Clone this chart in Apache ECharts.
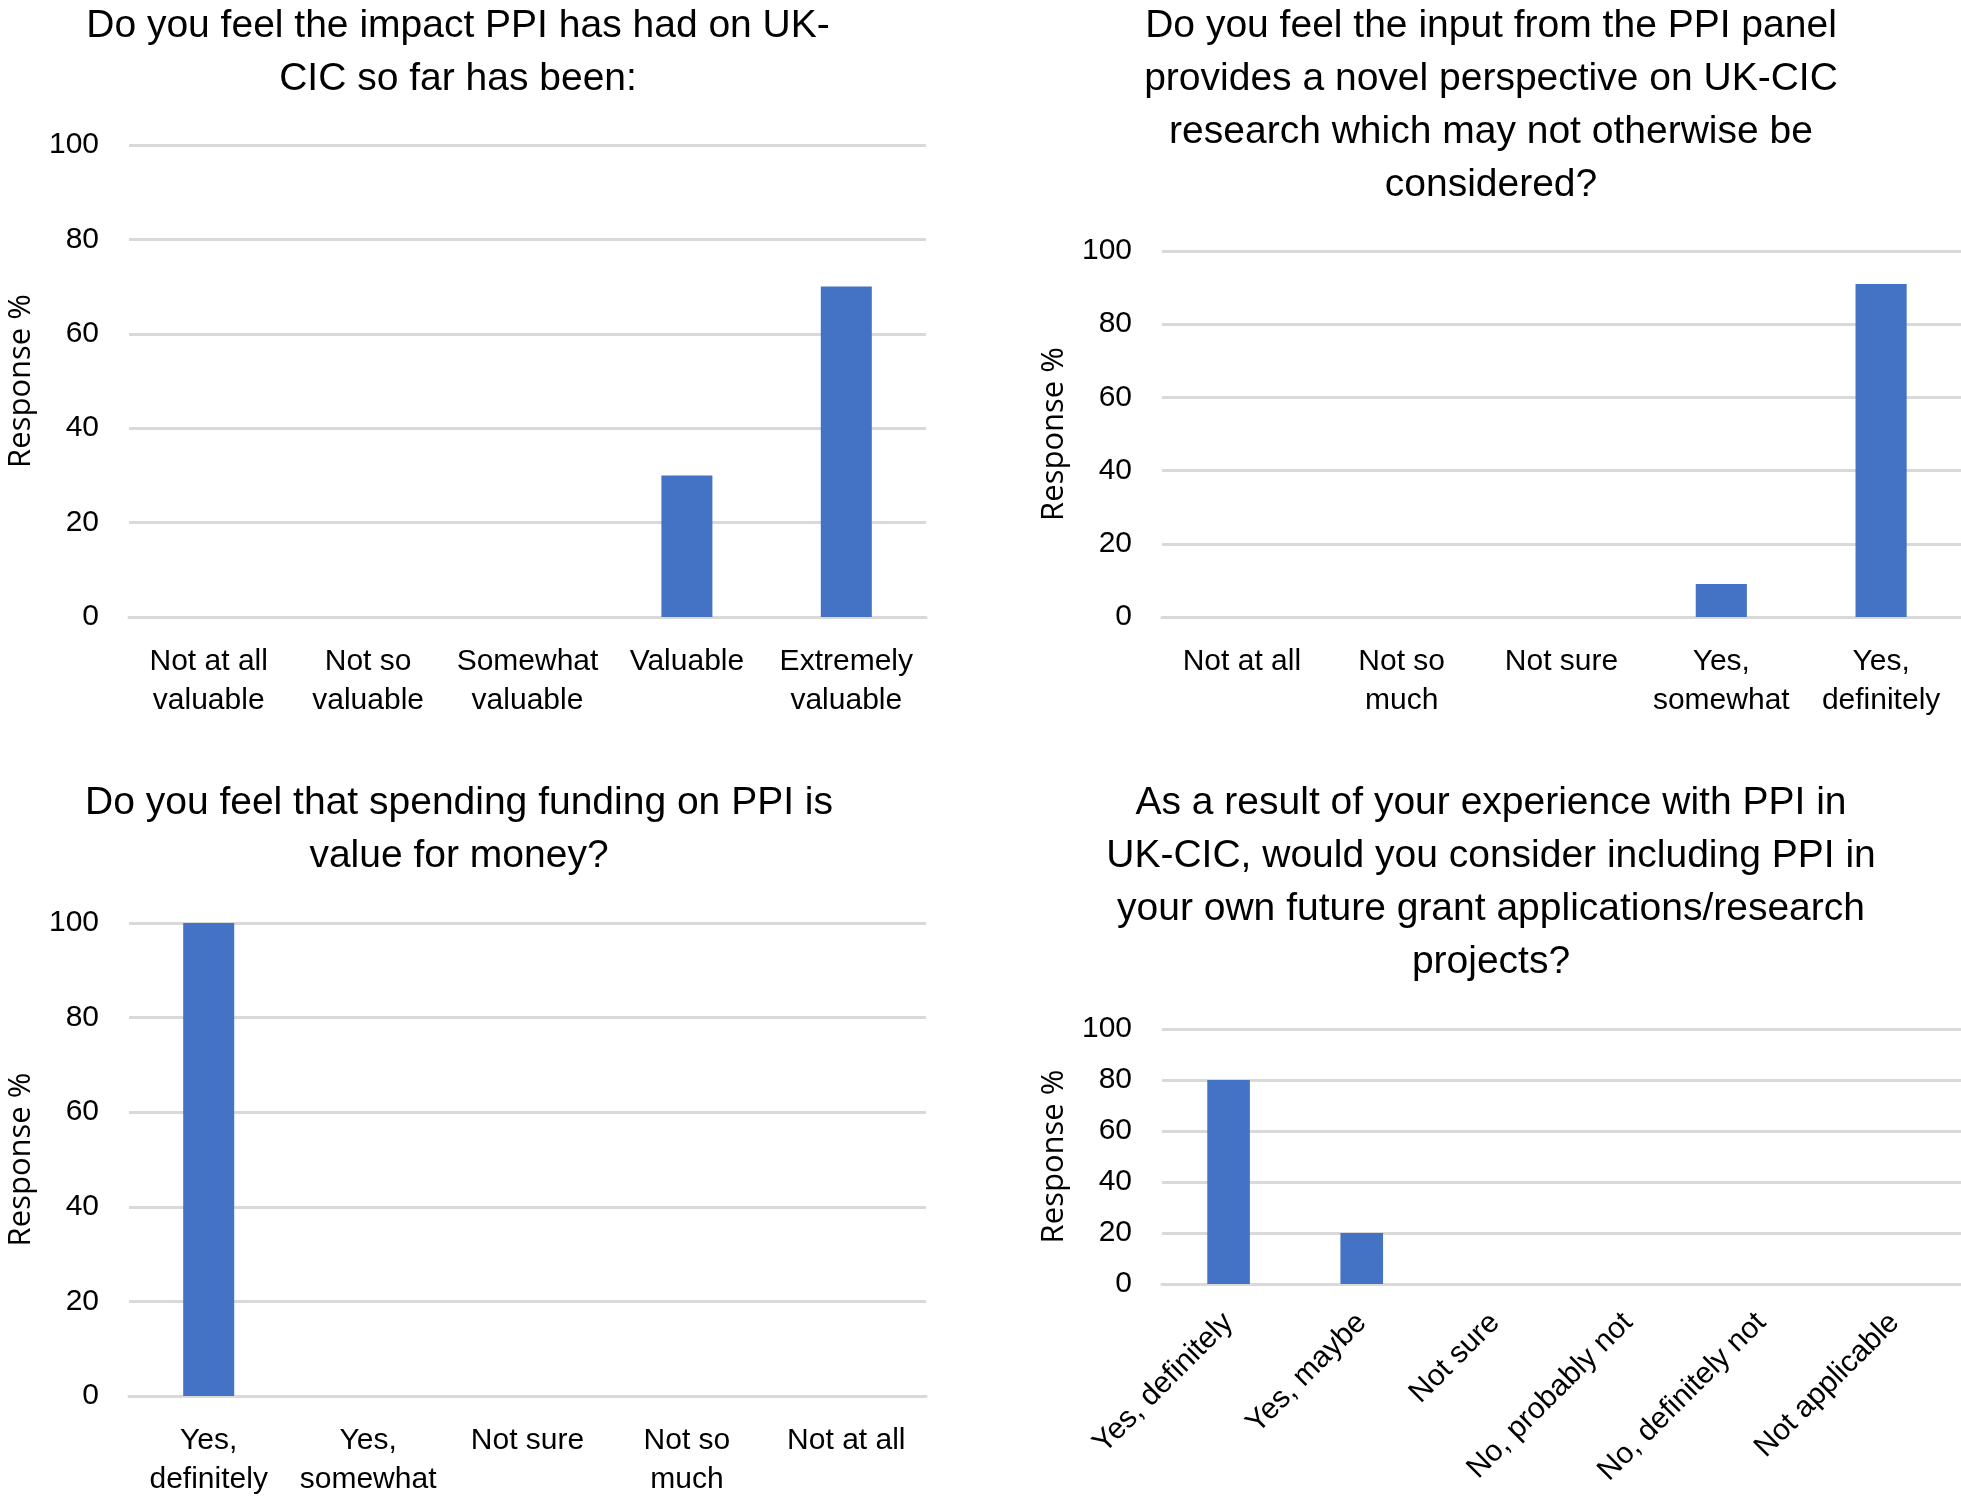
<!DOCTYPE html>
<html>
<head>
<meta charset="utf-8">
<script src="https://cdn.jsdelivr.net/npm/echarts@6/dist/echarts.min.js"></script>
<style>
  html, body { margin: 0; padding: 0; background: #fff; }
  #main { width: 1961px; height: 1499px; }
</style>
</head>
<body>
<div id="main"></div>
<script>
// impact so far
var impactCats = ['Not at all\nvaluable', 'Not so\nvaluable', 'Somewhat\nvaluable', 'Valuable', 'Extremely\nvaluable'];
var impactVals = [0, 0, 0, 30, 70];
// novel perspective
var novelCats = ['Not at all', 'Not so\nmuch', 'Not sure', 'Yes,\nsomewhat', 'Yes,\ndefinitely'];
var novelVals = [0, 0, 0, 9, 91];
// value for money
var moneyCats = ['Yes,\ndefinitely', 'Yes,\nsomewhat', 'Not sure', 'Not so\nmuch', 'Not at all'];
var moneyVals = [100, 0, 0, 0, 0];
// future grants
var grantCats = ['Yes, definitely', 'Yes, maybe', 'Not sure', 'No, probably not', 'No, definitely not', 'Not applicable'];
var grantVals = [80, 20, 0, 0, 0, 0];

var titles = [
  'Do you feel the impact PPI has had on UK-\nCIC so far has been:',
  'Do you feel the input from the PPI panel\nprovides a novel perspective on UK-CIC\nresearch which may not otherwise be\nconsidered?',
  'Do you feel that spending funding on PPI is\nvalue for money?',
  'As a result of your experience with PPI in\nUK-CIC, would you consider including PPI in\nyour own future grant applications/research\nprojects?'
];

var font = 'Liberation Sans, Arial, sans-serif';
var barColor = '#4472C4';
var lineColor = '#D9D9D9';

var chart = echarts.init(document.getElementById('main'));

function makeTitle(text, x, y) {
  return {
    text: text,
    left: x,
    top: y,
    textAlign: 'center',
    textStyle: {
      fontFamily: font,
      fontSize: 39,
      fontWeight: 'normal',
      color: '#000',
      lineHeight: 53
    }
  };
}

function makeX(i, cats, rotate) {
  return {
    type: 'category',
    gridIndex: i,
    data: cats,
    axisTick: { show: false },
    axisLine: { lineStyle: { color: lineColor, width: 3 } },
    axisLabel: {
      interval: 0,
      rotate: rotate || 0,
      margin: rotate ? 34 : 25,
      fontFamily: font,
      fontSize: 30,
      lineHeight: 39,
      color: '#000'
    }
  };
}

function makeY(i, gap) {
  return {
    type: 'value',
    gridIndex: i,
    min: 0,
    max: 100,
    interval: 20,
    name: 'Response %',
    nameLocation: 'middle',
    nameGap: gap,
    nameRotate: 90,
    nameTextStyle: {
      fontFamily: 'Open Sans, sans-serif',
      fontSize: 31,
      color: '#000'
    },
    axisLine: { show: false },
    axisTick: { show: false },
    splitLine: { lineStyle: { color: lineColor, width: 3 } },
    axisLabel: {
      margin: 30,
      fontFamily: font,
      fontSize: 30,
      color: '#000'
    }
  };
}

function makeBar(i, vals) {
  return {
    type: 'bar',
    xAxisIndex: i,
    yAxisIndex: i,
    data: vals,
    barWidth: '32%',
    itemStyle: { color: barColor },
    silent: true
  };
}

var option = {
  backgroundColor: '#fff',
  animation: false,
  title: [
    makeTitle(titles[0], 453, -5),
    makeTitle(titles[1], 1486, -5),
    makeTitle(titles[2], 454, 772),
    makeTitle(titles[3], 1486, 772)
  ],
  grid: [
    { left: 129, top: 145, width: 797, height: 472 },
    { left: 1162, top: 251, width: 799, height: 366 },
    { left: 129, top: 923, width: 797, height: 473 },
    { left: 1162, top: 1029, width: 799, height: 255 }
  ],
  xAxis: [
    makeX(0, impactCats),
    makeX(1, novelCats),
    makeX(2, moneyCats),
    makeX(3, grantCats, 45)
  ],
  yAxis: [
    makeY(0, 92),
    makeY(1, 92),
    makeY(2, 92),
    makeY(3, 92)
  ],
  series: [
    makeBar(0, impactVals),
    makeBar(1, novelVals),
    makeBar(2, moneyVals),
    makeBar(3, grantVals)
  ]
};

chart.setOption(option);
</script>
</body>
</html>
